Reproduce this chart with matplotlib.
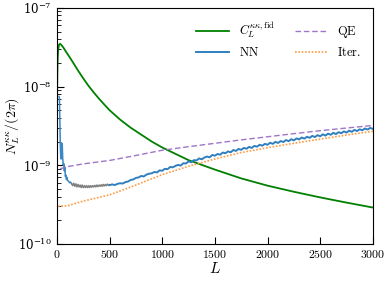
import numpy as np
import matplotlib
matplotlib.use("Agg")
import matplotlib.pyplot as plt
from matplotlib.ticker import FuncFormatter, LogLocator, NullFormatter

plt.rcParams["mathtext.fontset"] = "cm"
plt.rcParams["font.family"] = "serif"
plt.rcParams["font.serif"] = ["DejaVu Serif"]

# fiducial lensing spectrum
L_fid = [2, 4, 6, 10, 15, 20, 28, 40, 60, 80, 100, 150, 200, 250, 300, 350, 400,
         450, 500, 600, 700, 800, 900, 1000, 1250, 1500, 1750, 2000, 2250, 2500,
         2750, 3000]
C_fid = [8e-9, 1.5e-8, 2.0e-8, 2.7e-8, 3.15e-8, 3.4e-8, 3.5e-8, 3.4e-8, 3.15e-8,
         2.85e-8, 2.6e-8, 2.05e-8, 1.6e-8, 1.27e-8, 1.02e-8, 8.4e-9, 7.0e-9,
         5.9e-9, 5.0e-9, 3.8e-9, 3.0e-9, 2.45e-9, 2.0e-9, 1.68e-9, 1.16e-9,
         8.8e-10, 6.8e-10, 5.5e-10, 4.6e-10, 3.9e-10, 3.35e-10, 2.9e-10]

# quadratic estimator noise
L_qe = [30, 100, 250, 500, 750, 1000, 1250, 1500, 1750, 2000, 2250, 2500, 2750, 3000]
N_qe = [9.0e-10, 9.6e-10, 1.04e-9, 1.15e-9, 1.33e-9, 1.55e-9, 1.72e-9, 1.9e-9,
        2.1e-9, 2.3e-9, 2.52e-9, 2.75e-9, 2.97e-9, 3.2e-9]

# iterative estimator noise
L_it = [10, 100, 250, 500, 750, 1000, 1250, 1500, 1750, 2000, 2250, 2500, 2750, 3000]
N_it = [3.0e-10, 3.05e-10, 3.5e-10, 4.2e-10, 5.6e-10, 7.6e-10, 9.7e-10, 1.2e-9,
        1.45e-9, 1.67e-9, 1.9e-9, 2.15e-9, 2.42e-9, 2.7e-9]

# NN noise, low L (units of 1e-10)
L_nn_low = [20, 24, 28, 32, 36, 40, 45, 50, 55, 60, 65, 70, 75, 80, 85, 90, 95,
            100, 110, 120, 130, 140]
N_nn_low = [75, 70, 35, 18, 12.5, 12, 14, 19, 12, 10, 10.5, 8.5, 9.5, 7.2, 7.5,
            6.6, 7.0, 6.4, 6.3, 6.0, 6.1, 5.8]

# NN noise, masked range (grey)
L_nn_mid = list(range(140, 510, 10))
N_nn_mid = [5.8, 5.5, 5.9, 5.4, 5.8, 5.3, 5.7, 5.3, 5.6, 5.2, 5.6, 5.2, 5.5, 5.2,
            5.5, 5.2, 5.5, 5.2, 5.5, 5.25, 5.5, 5.3, 5.55, 5.3, 5.6, 5.35, 5.6,
            5.4, 5.65, 5.4, 5.7, 5.45, 5.7, 5.5, 5.75, 5.55, 5.6]

# NN noise, high L
L_nn_high = list(range(500, 3025, 25))
N_nn_high = [5.6, 5.7, 5.6, 5.8, 5.9, 5.85, 6.1, 6.2, 6.5, 6.6, 6.9, 7.0, 7.3, 7.2,
             7.6, 7.8, 7.9, 8.2, 8.1, 8.6, 8.5, 9.0, 8.9, 9.5, 9.4, 9.8, 10.1, 9.9,
             10.6, 10.5, 11.2, 10.9, 11.6, 11.5, 12.2, 11.9, 12.5, 12.9, 12.6, 13.5,
             13.2, 13.9, 13.6, 14.5, 14.2, 15.0, 14.6, 15.6, 15.2, 16.1, 15.7, 16.6,
             16.2, 17.1, 16.6, 17.6, 17.2, 18.2, 17.7, 18.7, 18.2, 19.3, 18.7, 19.8,
             19.2, 20.3, 19.7, 20.9, 20.2, 21.4, 20.7, 21.9, 21.3, 22.5, 21.8, 23.0,
             22.3, 23.6, 22.8, 24.1, 23.3, 24.7, 23.8, 25.2, 24.4, 25.8, 24.9, 26.3,
             25.5, 26.9, 26.0, 27.5, 26.6, 28.1, 27.2, 28.6, 27.8, 29.3, 28.4, 29.8,
             29.0]

fig = plt.figure(figsize=(3.9, 2.81), dpi=100)
ax = fig.add_axes([0.146, 0.132, 0.81, 0.84])

ax.plot(L_fid, C_fid, color="green", lw=1.3, label=r"$C_L^{\kappa\kappa,\mathrm{fid}}$")
ax.plot(L_nn_low, np.array(N_nn_low) * 1e-10, color="#3a88c4", lw=1.1)
ax.plot(L_nn_mid, np.array(N_nn_mid) * 1e-10, color="gray", lw=1.1)
ax.plot(L_nn_high, np.array(N_nn_high) * 1e-10, color="#2f7fbf", lw=1.4,
        label=r"$\mathrm{NN}$")
ax.plot(L_qe, N_qe, color="#9f75c8", lw=1.0, ls=(0, (4, 2)), label=r"$\mathrm{QE}$")
ax.plot(L_it, N_it, color="#ff9b45", lw=1.2, ls=(0, (1, 1)), label=r"$\mathrm{Iter.}$")

ax.set_yscale("log")
ax.set_xlim(0, 3000)
ax.set_ylim(1e-10, 1e-7)
ax.set_xticks([0, 500, 1000, 1500, 2000, 2500, 3000])
ax.xaxis.set_major_formatter(FuncFormatter(lambda v, p: f"${v:g}$"))
ax.yaxis.set_minor_locator(LogLocator(base=10, subs=np.arange(2, 10)))
ax.yaxis.set_minor_formatter(NullFormatter())
ax.tick_params(which="both", direction="in", top=False, right=False, labelsize=8.5)
ax.tick_params(which="major", length=5)
ax.tick_params(which="minor", length=3)
ax.tick_params(axis="x", pad=3)

ax.set_xlabel(r"$L$", fontsize=11, labelpad=0)
ax.set_ylabel(r"$N_L^{\kappa\kappa}/(2\pi)$", fontsize=10)
ax.yaxis.set_label_coords(-0.112, 0.5)

ax.legend(ncol=2, frameon=False, fontsize=9, loc="upper right",
          bbox_to_anchor=(1.0, 1.0), handlelength=2.6, columnspacing=1.6)

fig.savefig("out.png", dpi=100)
